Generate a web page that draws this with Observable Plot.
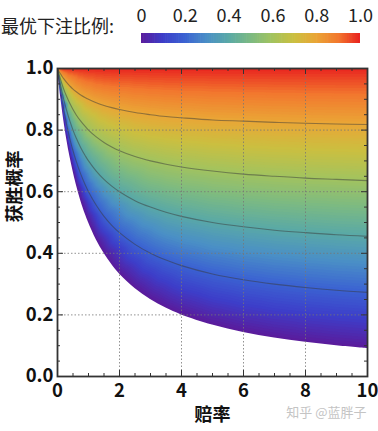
<!DOCTYPE html>
<html>
<head>
<meta charset="utf-8">
<script src="https://cdn.jsdelivr.net/npm/d3@7"></script>
<script src="https://cdn.jsdelivr.net/npm/@observablehq/plot@0.6"></script>
<style>
  html, body { margin: 0; padding: 0; background: #fff; }
  #wrap { position: relative; width: 378px; height: 431px; overflow: hidden; }
  #wrap > * { position: absolute; }
  #cbLabel { left: 1px; top: 12px; font: 18px 'Noto Sans CJK SC', sans-serif; color: #222; white-space: nowrap; }
</style>
</head>
<body>
<div id="wrap">
  <div id="main" style="left:0;top:0"></div>
  <div id="cbLabel">最优下注比例:</div>
  <div id="cbar" style="left:130px;top:0"></div>
</div>
<script>
// ---- data ----
const odds = [0, 0.02, 0.05, 0.1, 0.15, 0.2, 0.3, 0.4, 0.5, 0.6, 0.75, 0.9, 1, 1.25, 1.5, 1.75, 2, 2.5, 3, 3.5, 4, 5, 6, 7, 8, 9, 10];
// win probability along each line of equal optimal bet fraction
const probAt0   = [1, 0.980, 0.952, 0.909, 0.870, 0.833, 0.769, 0.714, 0.667, 0.625, 0.571, 0.526, 0.500, 0.444, 0.400, 0.364, 0.333, 0.286, 0.250, 0.222, 0.200, 0.167, 0.143, 0.125, 0.111, 0.100, 0.091];
const probAt02  = [1, 0.984, 0.962, 0.927, 0.896, 0.867, 0.815, 0.771, 0.733, 0.700, 0.657, 0.621, 0.600, 0.556, 0.520, 0.491, 0.467, 0.429, 0.400, 0.378, 0.360, 0.333, 0.314, 0.300, 0.289, 0.280, 0.273];
const probAt04  = [1, 0.988, 0.971, 0.945, 0.922, 0.900, 0.862, 0.829, 0.800, 0.775, 0.743, 0.716, 0.700, 0.667, 0.640, 0.618, 0.600, 0.571, 0.550, 0.533, 0.520, 0.500, 0.486, 0.475, 0.467, 0.460, 0.455];
const probAt06  = [1, 0.992, 0.981, 0.964, 0.948, 0.933, 0.908, 0.886, 0.867, 0.850, 0.829, 0.811, 0.800, 0.778, 0.760, 0.745, 0.733, 0.714, 0.700, 0.689, 0.680, 0.667, 0.657, 0.650, 0.644, 0.640, 0.636];
const probAt08  = [1, 0.996, 0.990, 0.982, 0.974, 0.967, 0.954, 0.943, 0.933, 0.925, 0.914, 0.905, 0.900, 0.889, 0.880, 0.873, 0.867, 0.857, 0.850, 0.844, 0.840, 0.833, 0.829, 0.825, 0.822, 0.820, 0.818];
const probAt10  = odds.map(() => 1);
const fractions = [0, 0.2, 0.4, 0.6, 0.8, 1.0];
const probLines = [probAt0, probAt02, probAt04, probAt06, probAt08, probAt10];

// ticks
const xTicks = [0, 2, 4, 6, 8, 10];
const xTickLabels = ["0", "2", "4", "6", "8", "10"];
const yTicks = [0, 0.2, 0.4, 0.6, 0.8, 1.0];
const yTickLabels = ["0.0", "0.2", "0.4", "0.6", "0.8", "1.0"];
const cbTicks = [0, 0.2, 0.4, 0.6, 0.8, 1.0];
const cbTickLabels = ["0", "0.2", "0.4", "0.6", "0.8", "1.0"];
const xMinor = [0.5, 1, 1.5, 2.5, 3, 3.5, 4.5, 5, 5.5, 6.5, 7, 7.5, 8.5, 9, 9.5];
const yMinor = [0.05, 0.1, 0.15, 0.25, 0.3, 0.35, 0.45, 0.5, 0.55, 0.65, 0.7, 0.75, 0.85, 0.9, 0.95];

// colormap (colour stops at 0, 0.1, ..., 1.0)
const colorStops = ["#5a1c9c", "#3d3ec9", "#3b63d2", "#4a8fc6", "#5aa9a6", "#7cba82", "#a3c35e", "#cbbf40", "#eaa536", "#f2782e", "#e8211f"];
const colorInterp = d3.piecewise(d3.interpolateRgb, colorStops);
const levelStep = 0.01; // fill bands of the colour field and the colour bar

// ---- build tables ----
const field = [];
fractions.forEach((f, i) => odds.forEach((o, j) => { if (o > 0) field.push({odds: o, prob: probLines[i][j], frac: f}); }));
const boundary = odds.map((o, j) => ({odds: o, prob: probAt0[j]}));
const contours = [];
[1, 2, 3, 4].forEach(i => odds.forEach((o, j) => contours.push({odds: o, prob: probLines[i][j], frac: fractions[i]})));
const levels = d3.range(0, 1 + 1e-9, levelStep);

const FONT = "'Noto Sans CJK SC', 'Noto Sans', sans-serif";
const W = 378, H = 431, mL = 57, mR = 11, mT = 68, mB = 55;
const iw = W - mL - mR, ih = H - mT - mB;
const tickLen = 6, minorLen = 3;
const tickColor = "#333";
const colorScale = {type: "linear", domain: [0, 1], interpolate: colorInterp};

const main = Plot.plot({
  width: W, height: H,
  marginLeft: mL, marginRight: mR, marginTop: mT, marginBottom: mB,
  style: {fontFamily: FONT, background: "white", overflow: "visible"},
  x: {domain: [0, 10], axis: null},
  y: {domain: [0, 1], axis: null},
  color: colorScale,
  marks: [
    Plot.contour(field, {x: "odds", y: "prob", fill: "frac", interpolate: "barycentric",
      thresholds: levels, x1: 0, x2: 10, y1: 0, y2: 1, width: 155, height: 154, stroke: "none"}),
    Plot.areaY(boundary, {x: "odds", y1: 0, y2: "prob", fill: "white", curve: "catmull-rom"}),
    Plot.line(contours, {x: "odds", y: "prob", z: "frac", stroke: "#3a3a3a", strokeOpacity: 0.5, strokeWidth: 1.1, curve: "catmull-rom"}),
    Plot.ruleX([2, 4, 6, 8], {stroke: "#777", strokeOpacity: 0.8, strokeDasharray: "1.5,2"}),
    Plot.ruleY([0.2, 0.4, 0.6, 0.8], {stroke: "#777", strokeOpacity: 0.8, strokeDasharray: "1.5,2"}),
    // inward ticks on all four sides
    Plot.tickX(xTicks, {stroke: tickColor, insetTop: ih - tickLen}),
    Plot.tickX(xTicks, {stroke: tickColor, insetBottom: ih - tickLen}),
    Plot.tickX(xMinor, {stroke: tickColor, insetTop: ih - minorLen}),
    Plot.tickX(xMinor, {stroke: tickColor, insetBottom: ih - minorLen}),
    Plot.tickY(yTicks, {stroke: tickColor, insetRight: iw - tickLen}),
    Plot.tickY(yTicks, {stroke: tickColor, insetLeft: iw - tickLen}),
    Plot.tickY(yMinor, {stroke: tickColor, insetRight: iw - minorLen}),
    Plot.tickY(yMinor, {stroke: tickColor, insetLeft: iw - minorLen}),
    Plot.frame({stroke: "#333", strokeWidth: 1.8}),
    Plot.text(xTicks, {x: d => d, text: (d, i) => xTickLabels[i], frameAnchor: "bottom", lineAnchor: "middle", dy: 15, fontSize: 18.5, fontWeight: "bold", fill: "#111"}),
    Plot.text(yTicks, {y: d => d, text: (d, i) => yTickLabels[i], frameAnchor: "left", lineAnchor: "middle", dx: -4, textAnchor: "end", fontSize: 18.5, fontWeight: "bold", fill: "#111"}),
    Plot.text(["获胜概率"], {text: d => d, frameAnchor: "left", lineAnchor: "middle", dx: -42, rotate: -90, fontSize: 18, fontWeight: "bold", fill: "#111"}),
    Plot.text(["赔率"], {text: d => d, frameAnchor: "bottom", lineAnchor: "middle", dy: 39, fontSize: 18, fontWeight: "bold", fill: "#111"}),
    Plot.text(["知乎 @蓝胖子"], {text: d => d, frameAnchor: "bottom-right", lineAnchor: "middle", textAnchor: "end", dx: -1, dy: 36, fontSize: 13, fill: "#c4c4c4"})
  ]
});
document.getElementById("main").append(main);

// colorbar
const cbar = Plot.plot({
  width: 240, height: 45,
  marginLeft: 11, marginRight: 10, marginTop: 33, marginBottom: 2,
  style: {fontFamily: FONT, background: "transparent", overflow: "visible"},
  x: {domain: [0, 1], axis: null},
  y: {domain: [0, 1], axis: null},
  color: colorScale,
  marks: [
    Plot.rect(levels.slice(0, -1), {x1: d => d, x2: d => Math.min(1, d + levelStep * 1.3), y1: 0, y2: 1, fill: d => d + levelStep / 2}),
    Plot.text(cbTicks, {x: d => d, text: (d, i) => cbTickLabels[i], frameAnchor: "top", lineAnchor: "middle", dy: -17, fontSize: 18, fill: "#222"})
  ]
});
document.getElementById("cbar").append(cbar);
</script>
</body>
</html>
